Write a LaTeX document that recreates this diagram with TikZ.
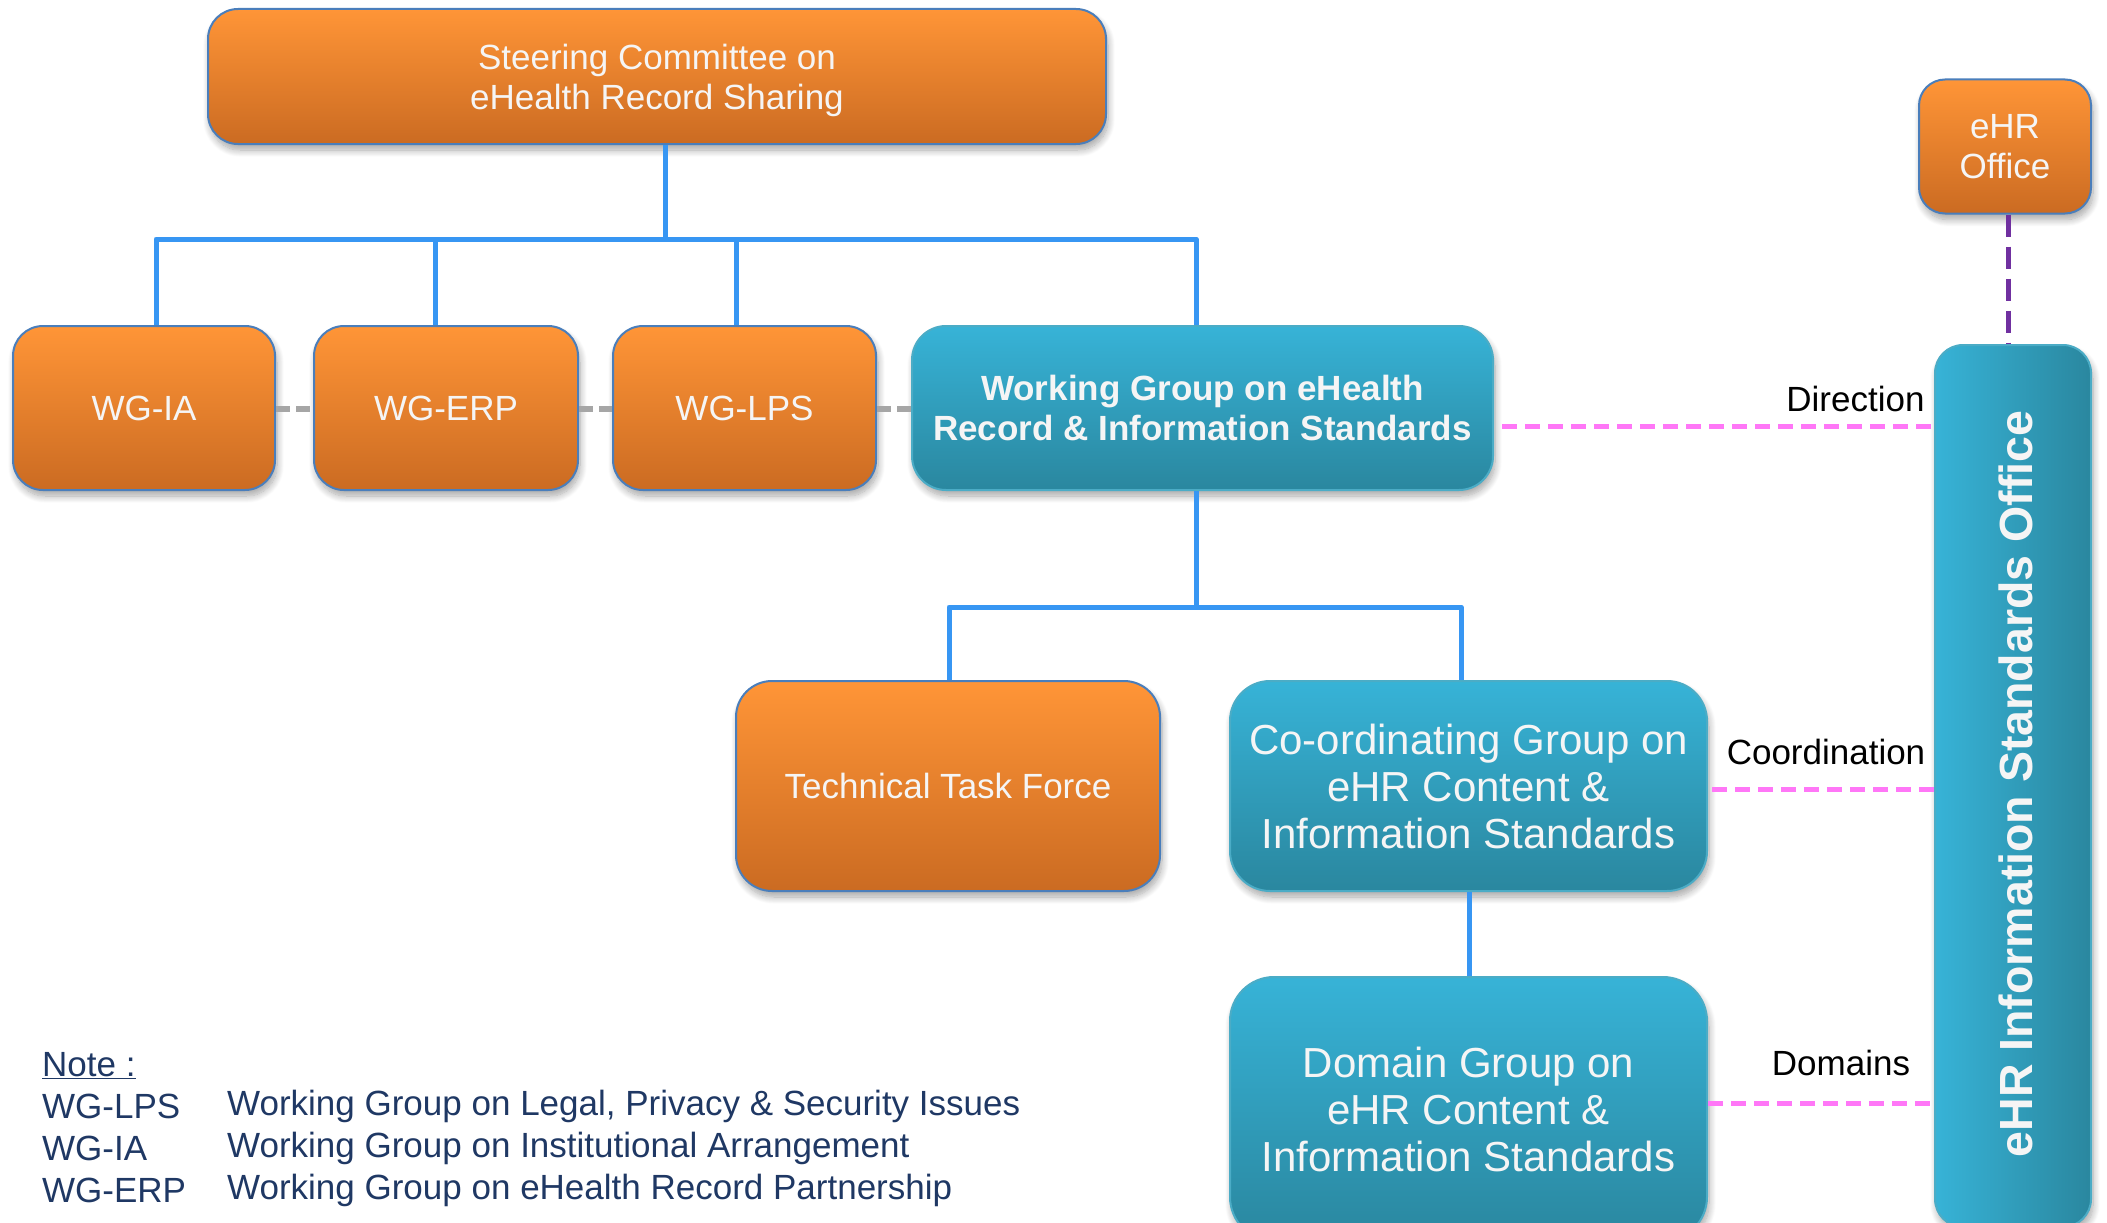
\documentclass[tikz,border=0pt]{standalone}
\usepackage{fontspec}
\setmainfont{Liberation Sans}
\usetikzlibrary{shadows.blur}

\definecolor{orTop}{HTML}{FF9537}
\definecolor{orBot}{HTML}{CB6B22}
\definecolor{orLine}{HTML}{4A7EBB}
\definecolor{blTop}{HTML}{37B3D7}
\definecolor{blBot}{HTML}{2A879F}
\definecolor{blLine}{HTML}{4BACC6}
\definecolor{treeBlue}{HTML}{3796F3}
\definecolor{linkGray}{HTML}{A6A6A6}
\definecolor{linkPink}{HTML}{FF77F7}
\definecolor{linkPurple}{HTML}{7030A0}
\definecolor{boxText}{HTML}{F5F5F5}
\definecolor{noteText}{HTML}{1F3864}

\tikzset{
  shadowed/.style={blur shadow={shadow xshift=2pt, shadow yshift=-6pt,
      shadow blur radius=7pt, shadow opacity=35, shadow blur steps=10}},
  orangebox/.style={shadowed, rounded corners=30pt, draw=orLine, line width=2pt,
      top color=orTop, bottom color=orBot, text=boxText, align=center,
      font=\fontsize{35}{40}\selectfont},
  bluebox/.style={shadowed, rounded corners=34pt, draw=blLine, line width=2pt,
      top color=blTop, bottom color=blBot, text=boxText, align=center},
  tree/.style={draw=treeBlue, line width=5pt},
  graylink/.style={draw=linkGray, line width=6pt, dash pattern=on 14pt off 6pt},
  pinklink/.style={draw=linkPink, line width=5pt, dash pattern=on 15pt off 8pt},
  purplelink/.style={draw=linkPurple, line width=5pt, dash pattern=on 22pt off 10pt},
  linklabel/.style={text=black, font=\fontsize{35}{40}\selectfont},
  notetext/.style={text=noteText, anchor=west, inner sep=0pt, font=\fontsize{35}{40}\selectfont},
}

\begin{document}
\begin{tikzpicture}[x=1pt, y=-1pt]
\useasboundingbox (0,0) rectangle (2107,1223);

% ---- top level ----
\node[orangebox, minimum width=898pt, minimum height=135pt] (steer) at (657,76.5)
  {Steering Committee on\\eHealth Record Sharin\smash{g}};

% ---- working groups ----
\node[orangebox, minimum width=262pt, minimum height=164pt] (wgia)  at (144,408)   {WG-IA};
\node[orangebox, minimum width=264pt, minimum height=164pt] (wgerp) at (446,408)   {WG-ERP};
\node[orangebox, minimum width=263pt, minimum height=164pt] (wglps) at (744.5,408) {WG-LPS};
\node[bluebox, minimum width=581pt, minimum height=164pt,
      font=\bfseries\fontsize{35}{40}\selectfont] (wgehr) at (1202.5,408)
  {Working Group on eHealth\\Record \& Information Standards};

% ---- office side ----
\node[orangebox, rounded corners=26pt, minimum width=172pt, minimum height=134pt] (office) at (2005,146.5)
  {eHR\\Office};
\node[shadowed, rounded corners=28pt, draw=blLine, line width=2pt,
      left color=blTop, right color=blBot, minimum width=156pt, minimum height=882pt] (bar) at (2013,786)
  {};
\node[rotate=90, text=boxText, font=\bfseries\fontsize{46.5}{50}\selectfont] (bartext) at (2016,784)
  {eHR Information Standards Office};

% ---- lower groups ----
\node[orangebox, rounded corners=36pt, minimum width=424pt, minimum height=210pt] (ttf) at (948,786)
  {Technical Task Force};
\node[bluebox, rounded corners=40pt, minimum width=477pt, minimum height=210pt,
      font=\fontsize{42}{47}\selectfont] (coord) at (1468.5,786)
  {Co-ordinating Group on\\eHR Content \&\\Information Standards};
\node[bluebox, rounded corners=44pt, minimum width=477pt, minimum height=264pt,
      font=\fontsize{42}{47}\selectfont] (domain) at (1468.5,1109)
  {Domain Group on\\eHR Content \&\\Information Standards};

% ---- tree connectors ----
\coordinate (hub) at (665,239);
\coordinate (b1) at (156,239);
\coordinate (b2) at (435,239);
\coordinate (b3) at (736,239);
\coordinate (b4) at (1196,239);
\draw[tree] (steer.south -| hub) -- (hub);
\draw[tree, line join=round] (b1 |- wgia.north) -- (b1) -- (b4) -- (b4 |- wgehr.north);
\draw[tree] (b2) -- (b2 |- wgerp.north);
\draw[tree] (b3) -- (b3 |- wglps.north);

\coordinate (c0) at (1196,607);
\coordinate (c1) at (949,607);
\coordinate (c2) at (1461,607);
\coordinate (cd) at (1469,0);
\draw[tree] (wgehr.south -| c0) -- (c0);
\draw[tree, line join=round] (c1 |- ttf.north) -- (c1) -- (c2) -- (c2 |- coord.north);
\draw[tree] (coord.south -| cd) -- (domain.north -| cd);

% ---- links between working groups ----
\coordinate (gy) at (0,409);
\draw[graylink] (wgia.east |- gy) -- (wgerp.west |- gy);
\draw[graylink] (wgerp.east |- gy) -- (wglps.west |- gy);
\draw[graylink] (wglps.east |- gy) -- (wgehr.west |- gy);

% ---- office links ----
\coordinate (px) at (2008,0);
\draw[purplelink] (office.south -| px) -- (bar.north -| px);

\coordinate (dy) at (0,426);
\coordinate (cy) at (0,789);
\coordinate (my) at (0,1103);
\draw[pinklink] ([xshift=8pt]wgehr.east |- dy) -- (bar.west |- dy);
\draw[pinklink] ([xshift=4pt]coord.east |- cy) -- (bar.west |- cy);
\draw[pinklink] (domain.east |- my) -- (bar.west |- my);

\node[linklabel, anchor=east] (ldir) at (1928,399) {Direction};
\node[linklabel] (lcoord) at (1826,752) {Coordination};
\node[linklabel] (ldom) at (1841,1063) {Domains};

% ---- note ----
\node[notetext] (note) at (42,1066) {\underline{Note :}};
\node[notetext] (n1a) at (42,1106) {WG-LPS};
\node[notetext] (n1b) at (227,1106) {Working Group on Legal, Privacy \& Security Issues};
\node[notetext] (n2a) at (42,1148) {WG-IA};
\node[notetext] (n2b) at (227,1148) {Working Group on Institutional Arrangement};
\node[notetext] (n3a) at (42,1190) {WG-ERP};
\node[notetext] (n3b) at (227,1190) {Working Group on eHealth Record Partnership};
\end{tikzpicture}
\end{document}
